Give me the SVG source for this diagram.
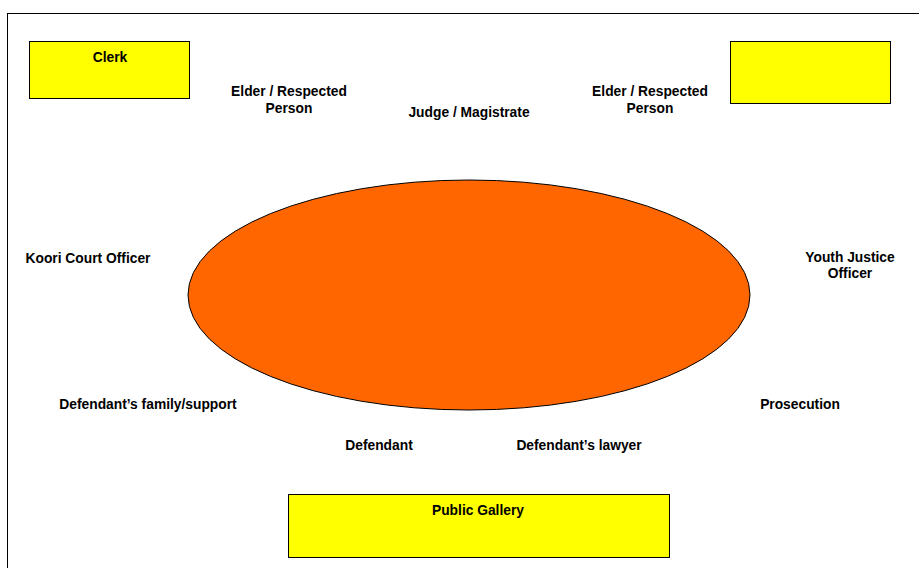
<svg xmlns="http://www.w3.org/2000/svg" width="919" height="568" viewBox="0 0 919 568">
<style>
.t{font-family:"Liberation Sans",Arial,sans-serif;font-weight:bold;font-size:13.8px;fill:#000;text-anchor:middle}
.box{fill:#ffff00;stroke:#000;stroke-width:1}
</style>
<rect x="0" y="0" width="919" height="568" fill="#fff"/>
<rect x="7.5" y="13.5" width="930" height="580" fill="none" stroke="#000" stroke-width="1"/>
<g id="clerk"><rect class="box" x="29.5" y="41.5" width="160" height="57"/><text class="t" x="110" y="62">Clerk</text></g>
<g id="box-right"><rect class="box" x="730.5" y="41.5" width="160" height="62"/></g>
<g id="public-gallery"><rect class="box" x="288.5" y="494.5" width="381" height="63"/><text class="t" x="478" y="515">Public Gallery</text></g>
<g id="table"><ellipse cx="469" cy="295" rx="281" ry="115" fill="#ff6600" stroke="#000" stroke-width="1"/></g>
<g id="elder-left"><text class="t" x="289" y="95.5">Elder / Respected</text><text class="t" x="289" y="112.5">Person</text></g>
<g id="judge"><text class="t" x="469" y="116.5">Judge / Magistrate</text></g>
<g id="elder-right"><text class="t" x="650" y="95.5">Elder / Respected</text><text class="t" x="650" y="112.5">Person</text></g>
<g id="koori"><text class="t" x="88" y="262.5">Koori Court Officer</text></g>
<g id="youth"><text class="t" x="850" y="261.5">Youth Justice</text><text class="t" x="850" y="277.5">Officer</text></g>
<g id="family"><text class="t" x="148" y="408.5">Defendant’s family/support</text></g>
<g id="prosecution"><text class="t" x="800" y="408.5">Prosecution</text></g>
<g id="defendant"><text class="t" x="379" y="449.5">Defendant</text></g>
<g id="lawyer"><text class="t" x="579" y="449.5">Defendant’s lawyer</text></g>
<g id="connectors"></g>
</svg>
